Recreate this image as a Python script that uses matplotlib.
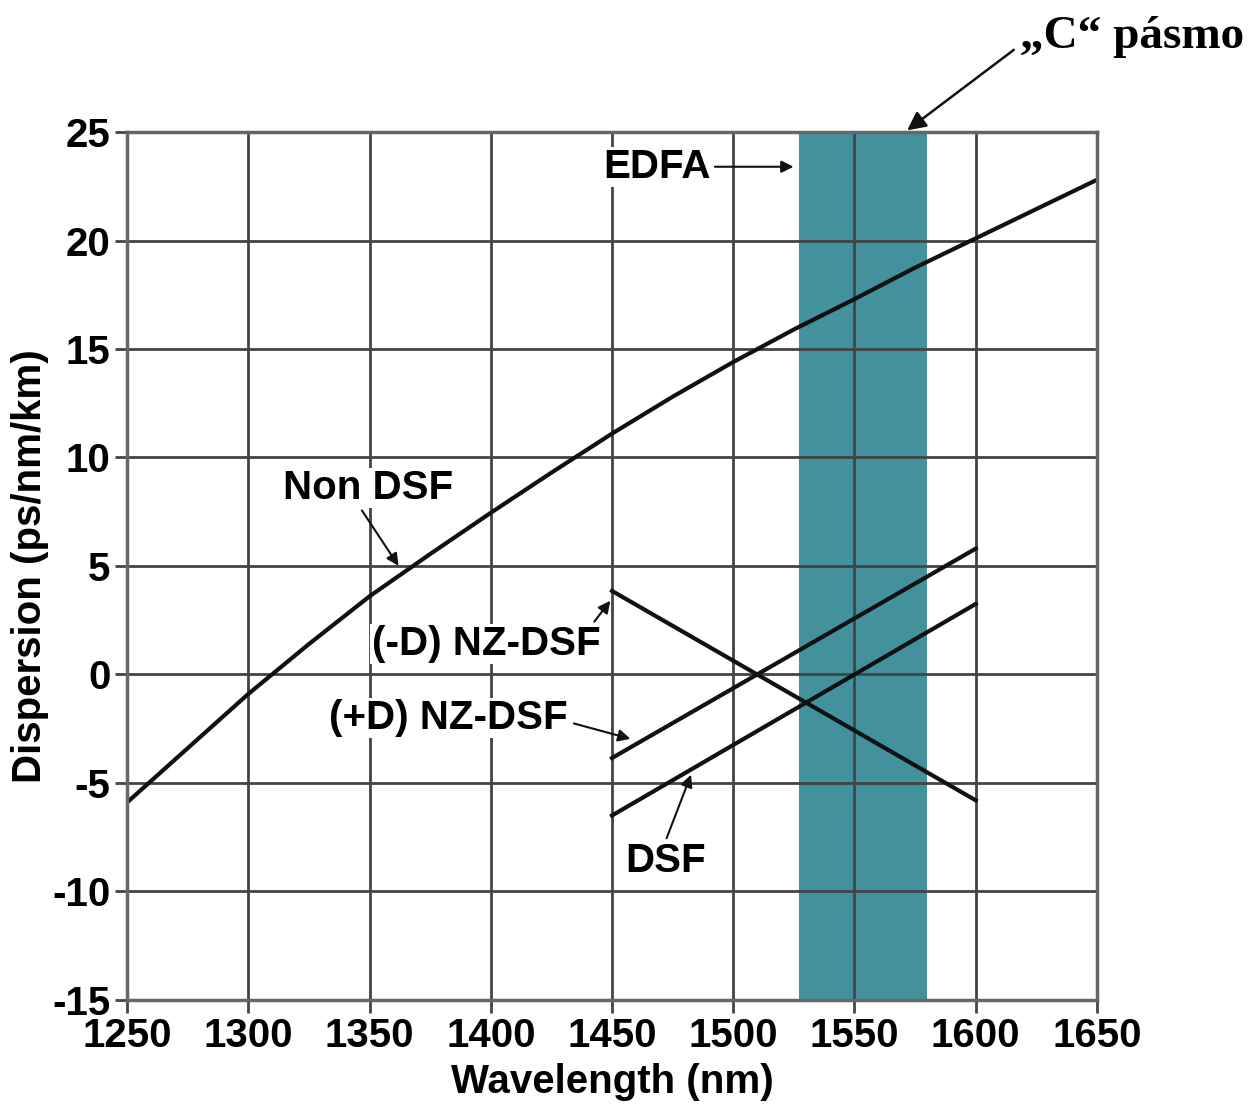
import matplotlib
matplotlib.use("Agg")
import matplotlib.pyplot as plt

plt.rcParams['font.family'] = ['Liberation Sans', 'DejaVu Sans']
plt.rcParams['font.weight'] = 'bold'
plt.rcParams['axes.unicode_minus'] = False

# data
wl_nondsf = [1250, 1275, 1300, 1325, 1350, 1375, 1400, 1425, 1450,
             1475, 1500, 1525, 1550, 1575, 1600, 1625, 1650]
d_nondsf = [-5.9, -3.4, -0.9, 1.4, 3.6, 5.55, 7.45, 9.3, 11.1,
            12.8, 14.4, 15.9, 17.3, 18.75, 20.1, 21.45, 22.8]

wl_short = [1450, 1600]
d_minus_nz = [3.85, -5.8]
d_plus_nz = [-3.85, 5.8]
d_dsf = [-6.5, 3.25]

c_band = [1527, 1580]

xticks = [1250, 1300, 1350, 1400, 1450, 1500, 1550, 1600, 1650]
yticks = [-15, -10, -5, 0, 5, 10, 15, 20, 25]

fig = plt.figure(figsize=(12.55, 11.16), dpi=100)
ax = fig.add_axes([0.1012, 0.104, 0.7729, 0.7777])

ax.axvspan(c_band[0], c_band[1], color='#42919d', zorder=0.2, lw=0)

ax.plot(wl_nondsf, d_nondsf, color='#111111', lw=3)
ax.plot(wl_short, d_minus_nz, color='#111111', lw=3)
ax.plot(wl_short, d_plus_nz, color='#111111', lw=3)
ax.plot(wl_short, d_dsf, color='#111111', lw=3)

ax.set_xlim(1250, 1650)
ax.set_ylim(-15, 25)
ax.set_xticks(xticks)
ax.set_yticks(yticks)
ax.grid(True, color='#444444', lw=2)
ax.set_axisbelow(True)
for s in ax.spines.values():
    s.set_color('#666666')
    s.set_linewidth(2.5)
ax.tick_params(direction='out', length=9, width=2, color='#444444', pad=3)
ax.tick_params(axis='x', labelsize=29)
ax.tick_params(axis='y', labelsize=29)
ax.set_xlabel('Wavelength (nm)', fontsize=29, fontweight='bold', labelpad=6)
ax.set_ylabel('Dispersion (ps/nm/km)', fontsize=29, fontweight='bold')
ax.yaxis.set_label_coords(-0.08, 0.5)

arr = dict(arrowstyle='-|>', color='#111111', lw=1.5, mutation_scale=18)
box = dict(fc='white', ec='none', pad=1)

ax.annotate('Non DSF', xy=(1362.6, 4.9), xytext=(1349.4, 8.6), fontsize=29,
            ha='center', va='center', bbox=box,
            arrowprops=dict(arr, relpos=(0.45, 0.0)))
ax.annotate('(-D) NZ-DSF', xy=(1450, 3.5), xytext=(1398, 1.4), fontsize=29,
            ha='center', va='center', bbox=box,
            arrowprops=dict(arr, relpos=(0.95, 0.9), shrinkA=2))
ax.annotate('(+D) NZ-DSF', xy=(1458.7, -3.0), xytext=(1382.4, -2.0), fontsize=29,
            ha='center', va='center', bbox=box,
            arrowprops=dict(arr, relpos=(1.0, 0.4), shrinkA=4))
ax.annotate('DSF', xy=(1483, -4.5), xytext=(1471.9, -8.6), fontsize=29,
            ha='center', va='center', bbox=box,
            arrowprops=dict(arr, relpos=(0.5, 1.0)))
ax.annotate('EDFA', xy=(1526, 23.4), xytext=(1468.6, 23.4), fontsize=29,
            ha='center', va='center', arrowprops=arr, bbox=box)

ax.annotate('\u201eC\u201c p\u00e1smo', xy=(1570.8, 25), xytext=(0.902, 0.967),
            textcoords='figure fraction', fontsize=34, fontweight='bold',
            family=['Liberation Serif', 'DejaVu Serif'],
            ha='center', va='center', annotation_clip=False,
            arrowprops=dict(arrowstyle='-|>', color='#111111', lw=1.8,
                            mutation_scale=28, shrinkA=3, relpos=(0.0, 0.3)))

fig.savefig('out.png', dpi=100)
